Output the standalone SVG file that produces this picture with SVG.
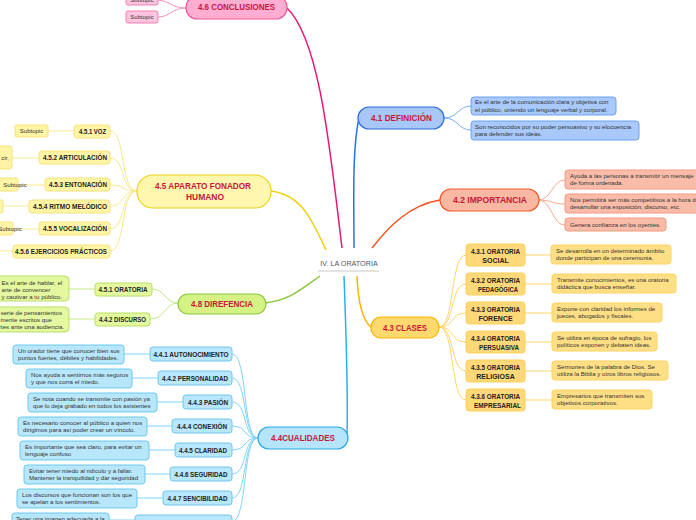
<svg xmlns="http://www.w3.org/2000/svg" width="696" height="520" viewBox="0 0 696 520">
<style>
.h{font-family:"Liberation Sans",Arial,sans-serif;font-weight:bold;fill:#c8163c;text-anchor:middle;dominant-baseline:central}
.c{font-family:"Liberation Sans",Arial,sans-serif;font-weight:bold;fill:#222;text-anchor:middle;dominant-baseline:central;font-size:7px}
.d{font-family:"Liberation Sans",Arial,sans-serif;fill:#333;font-size:6.1px}
.s{font-family:"Liberation Sans",Arial,sans-serif;fill:#333;font-size:6px;text-anchor:middle;dominant-baseline:central}
.cn path{fill:none}
</style>
<rect width="696" height="520" fill="#fff"/>
<g class="cn" id="connectors">
  <path d="M342,248 C330,150 320,40 287,8" stroke="#e8187a" stroke-width="1.5"/>
  <path d="M354,248 C354,200 352,150 359,118" stroke="#2373e0" stroke-width="1.5"/>
  <path d="M372,248 C390,225 410,205 440,200" stroke="#f4511e" stroke-width="1.5"/>
  <path d="M326,250 C310,215 300,195 271,191" stroke="#f0d000" stroke-width="1.5"/>
  <path d="M320,276 C300,290 290,300 265,303" stroke="#8cc43c" stroke-width="1.5"/>
  <path d="M344,276 C346,330 348,400 347,437" stroke="#2bb0ee" stroke-width="1.5"/>
  <path d="M357,276 C358,300 362,320 371,327" stroke="#ffb300" stroke-width="1.5"/>
  <g stroke="#f590c0" stroke-width="1">
    <path d="M186,8 C172,8 170,1 158,0"/>
    <path d="M186,8 C172,8 170,17 158,17"/>
  </g>
  <g stroke="#7aaef0" stroke-width="1">
    <path d="M444,118 C458,118 458,106 471,106"/>
    <path d="M444,118 C458,118 458,130 471,130"/>
  </g>
  <g stroke="#f6a88c" stroke-width="1">
    <path d="M538,200 C552,200 552,180 565,180"/>
    <path d="M538,200 C552,200 552,204 565,204"/>
    <path d="M538,200 C552,200 552,225 565,225"/>
  </g>
  <g stroke="#ffd56b" stroke-width="1">
    <path d="M439,327 C455,327 450,255 466,255"/>
    <path d="M439,327 C455,327 450,284 466,284"/>
    <path d="M439,327 C455,327 450,313 466,313"/>
    <path d="M439,327 C455,327 450,342 466,342"/>
    <path d="M439,327 C455,327 450,371 466,371"/>
    <path d="M439,327 C455,327 450,400 466,400"/>
    <path d="M525,255 H551 M525,284 H552 M525,313 H552 M525,342 H552 M525,371 H552 M525,400 H552"/>
  </g>
  <g stroke="#f7e98e" stroke-width="1">
    <path d="M137,191 C120,191 126,131 110,131"/>
    <path d="M137,191 C120,191 126,158 110,158"/>
    <path d="M137,191 C120,191 126,185 110,185"/>
    <path d="M137,191 C120,191 126,206 110,206"/>
    <path d="M137,191 C120,191 126,229 110,229"/>
    <path d="M137,191 C120,191 126,251 110,251"/>
    <path d="M74,131 H48 M39,158 H12 M45,185 H18 M29,206 H3 M39,229 H13 M13,251 H0"/>
  </g>
  <g stroke="#c5e88a" stroke-width="1">
    <path d="M178,303 C165,303 165,289 152,289"/>
    <path d="M178,303 C165,303 165,319 150,319"/>
    <path d="M95,289 H69 M95,319 H69"/>
  </g>
  <g stroke="#81d4fa" stroke-width="1">
    <path d="M258,438 C242,438 248,354 232,354"/>
    <path d="M258,438 C242,438 248,378 232,378"/>
    <path d="M258,438 C242,438 248,402 232,402"/>
    <path d="M258,438 C242,438 248,426 232,426"/>
    <path d="M258,438 C242,438 248,450 232,450"/>
    <path d="M258,438 C242,438 248,474 232,474"/>
    <path d="M258,438 C242,438 248,498 232,498"/>
    <path d="M258,438 C242,438 248,520 232,522"/>
    <path d="M150,354 H124 M158,378 H132 M183,402 H157 M172,426 H147 M175,450 H149 M170,474 H145 M163,498 H137 M135,520 H109"/>
  </g>
</g>

<g id="center">
  <text x="349" y="263" font-family="Liberation Sans,Arial,sans-serif" font-size="7.2" fill="#555" text-anchor="middle" dominant-baseline="central">IV. LA ORATORIA</text>
  <line x1="318" y1="271" x2="379" y2="271" stroke="#e3e3e3" stroke-width="2"/>
</g>

<g id="n46">
  <rect x="186" y="-4" width="101" height="23" rx="11" fill="#ffaed2" stroke="#f0569a" stroke-width="1.2"/>
  <text class="h" x="236.5" y="7" font-size="9" textLength="77" lengthAdjust="spacingAndGlyphs">4.6 CONCLUSIONES</text>
</g>
<g id="n46a"><rect x="126" y="-6" width="32" height="11" rx="2" fill="#ffc4de" stroke="#f47fb6"/><text class="s" x="142" y="0">Subtopic</text></g>
<g id="n46b"><rect x="126" y="11" width="32" height="12" rx="2" fill="#ffc4de" stroke="#f47fb6"/><text class="s" x="142" y="17">Subtopic</text></g>

<g id="n41">
  <rect x="358" y="107" width="86" height="22" rx="11" fill="#a7c7f7" stroke="#2d6fd8" stroke-width="1.2"/>
  <text class="h" x="401.5" y="118" font-size="9" textLength="61" lengthAdjust="spacingAndGlyphs">4.1 DEFINICIÓN</text>
</g>
<g id="n41a"><rect x="471" y="97" width="145" height="18" rx="3" fill="#a8c9fa" stroke="#6ba2ee"/>
  <text class="d" x="475" y="104">Es el arte de la comunicación clara y objetiva con</text>
  <text class="d" x="475" y="111.5">el público, uniendo un lenguaje verbal y corporal.</text></g>
<g id="n41b"><rect x="471" y="121" width="168" height="19" rx="3" fill="#a8c9fa" stroke="#6ba2ee"/>
  <text class="d" x="475" y="128.5">Son reconocidos por su poder persuasivo y su elocuencia</text>
  <text class="d" x="475" y="136">para defender sus ideas.</text></g>

<g id="n42">
  <rect x="440" y="189" width="99" height="22" rx="11" fill="#f9b8a2" stroke="#f25a2c" stroke-width="1.2"/>
  <text class="h" x="490" y="200" font-size="9" textLength="74" lengthAdjust="spacingAndGlyphs">4.2 IMPORTANCIA</text>
</g>
<g id="n42a"><rect x="565" y="170" width="140" height="19" rx="3" fill="#f9bca8" stroke="#f39a80"/>
  <text class="d" x="570" y="177.5">Ayuda a las personas a transmitir un mensaje</text>
  <text class="d" x="570" y="185">de forma ordenada.</text></g>
<g id="n42b"><rect x="565" y="194" width="140" height="19" rx="3" fill="#f9bca8" stroke="#f39a80"/>
  <text class="d" x="570" y="201.5">Nos permitirá ser más competitivos a la hora de</text>
  <text class="d" x="570" y="209">desarrollar una exposición, discurso, etc.</text></g>
<g id="n42c"><rect x="565" y="218" width="101" height="13" rx="3" fill="#f9bca8" stroke="#f39a80"/>
  <text class="d" x="570" y="227">Genera confianza en los oyentes.</text></g>

<g id="n43">
  <rect x="371" y="317" width="68" height="21" rx="10" fill="#ffd86e" stroke="#f8b500" stroke-width="1.2"/>
  <text class="h" x="405" y="327.5" font-size="9" textLength="44" lengthAdjust="spacingAndGlyphs">4.3 CLASES</text>
</g>
<g id="n431"><rect x="466" y="244" width="59" height="22" rx="3" fill="#ffd979" stroke="#ffcf55"/>
  <text class="c" x="495.5" y="251" font-size="6.5" textLength="49" lengthAdjust="spacingAndGlyphs">4.3.1 ORATORIA</text>
  <text class="c" x="495.5" y="260" font-size="6.5">SOCIAL</text></g>
<g id="n432"><rect x="466" y="273" width="59" height="22" rx="3" fill="#ffd979" stroke="#ffcf55"/>
  <text class="c" x="495.5" y="280" font-size="6.5" textLength="49" lengthAdjust="spacingAndGlyphs">4.3.2 ORATORIA</text>
  <text class="c" x="498" y="289" font-size="6.5" textLength="40" lengthAdjust="spacingAndGlyphs">PEDAGÓGICA</text></g>
<g id="n433"><rect x="466" y="302" width="59" height="22" rx="3" fill="#ffd979" stroke="#ffcf55"/>
  <text class="c" x="495.5" y="309" font-size="6.5" textLength="49" lengthAdjust="spacingAndGlyphs">4.3.3 ORATORIA</text>
  <text class="c" x="495.5" y="318" font-size="6.5">FORENCE</text></g>
<g id="n434"><rect x="466" y="331" width="59" height="22" rx="3" fill="#ffd979" stroke="#ffcf55"/>
  <text class="c" x="495.5" y="338" font-size="6.5" textLength="49" lengthAdjust="spacingAndGlyphs">4.3.4 ORATORIA</text>
  <text class="c" x="499" y="347" font-size="6.5" textLength="40" lengthAdjust="spacingAndGlyphs">PERSUASIVA</text></g>
<g id="n435"><rect x="466" y="360" width="59" height="22" rx="3" fill="#ffd979" stroke="#ffcf55"/>
  <text class="c" x="495.5" y="367" font-size="6.5" textLength="49" lengthAdjust="spacingAndGlyphs">4.3.5 ORATORIA</text>
  <text class="c" x="495.5" y="376" font-size="6.5">RELIGIOSA</text></g>
<g id="n436"><rect x="466" y="389" width="59" height="22" rx="3" fill="#ffd979" stroke="#ffcf55"/>
  <text class="c" x="495.5" y="396" font-size="6.5" textLength="49" lengthAdjust="spacingAndGlyphs">4.3.6 ORATORIA</text>
  <text class="c" x="497.5" y="405" font-size="6.5" textLength="47" lengthAdjust="spacingAndGlyphs">EMPRESARIAL</text></g>
<g id="d431"><rect x="551" y="245" width="120" height="19" rx="3" fill="#ffdf85" stroke="#ffd25e"/>
  <text class="d" x="556" y="252.5">Se desarrolla en un determinado ámbito</text>
  <text class="d" x="556" y="260">donde  participan de una ceremonia.</text></g>
<g id="d432"><rect x="552" y="274" width="124" height="19" rx="3" fill="#ffdf85" stroke="#ffd25e"/>
  <text class="d" x="557" y="281.5">Transmite conocimientos, es una oratoria</text>
  <text class="d" x="557" y="289">didáctica que busca enseñar.</text></g>
<g id="d433"><rect x="552" y="303" width="110" height="19" rx="3" fill="#ffdf85" stroke="#ffd25e"/>
  <text class="d" x="557" y="310.5">Expone con claridad los informes de</text>
  <text class="d" x="557" y="318">jueces, abogados y fiscales.</text></g>
<g id="d434"><rect x="552" y="332" width="105" height="19" rx="3" fill="#ffdf85" stroke="#ffd25e"/>
  <text class="d" x="557" y="339.5">Se utiliza en época de sufragio, los</text>
  <text class="d" x="557" y="347">políticos exponen y debaten ideas.</text></g>
<g id="d435"><rect x="552" y="361" width="116" height="19" rx="3" fill="#ffdf85" stroke="#ffd25e"/>
  <text class="d" x="557" y="368.5">Sermones de la palabra de Dios. Se</text>
  <text class="d" x="557" y="376">utiliza la Biblia y otros libros religiosos.</text></g>
<g id="d436"><rect x="552" y="390" width="100" height="19" rx="3" fill="#ffdf85" stroke="#ffd25e"/>
  <text class="d" x="557" y="397.5">Empresarios que transmiten sus</text>
  <text class="d" x="557" y="405">objetivos corporativos.</text></g>

<g id="n45">
  <rect x="137" y="175" width="134" height="33" rx="16" fill="#fff7ae" stroke="#ecd21a" stroke-width="1.2"/>
  <text class="h" x="203" y="186" font-size="9" textLength="96" lengthAdjust="spacingAndGlyphs">4.5 APARATO FONADOR</text>
  <text class="h" x="205" y="197" font-size="9" textLength="38" lengthAdjust="spacingAndGlyphs">HUMANO</text>
</g>
<g id="n451"><rect x="74" y="125" width="36" height="13" rx="3" fill="#fff5a5" stroke="#f3e27c"/><text class="c" x="92.5" y="131.5" textLength="27" lengthAdjust="spacingAndGlyphs">4.5.1 VOZ</text></g>
<g id="n452"><rect x="39" y="151" width="71" height="13" rx="3" fill="#fff5a5" stroke="#f3e27c"/><text class="c" x="75" y="157.5" textLength="64" lengthAdjust="spacingAndGlyphs">4.5.2 ARTICULACIÓN</text></g>
<g id="n453"><rect x="45" y="178" width="65" height="13" rx="3" fill="#fff5a5" stroke="#f3e27c"/><text class="c" x="78" y="184.5" textLength="58" lengthAdjust="spacingAndGlyphs">4.5.3 ENTONACIÓN</text></g>
<g id="n454"><rect x="29" y="200" width="81" height="13" rx="3" fill="#fff5a5" stroke="#f3e27c"/><text class="c" x="70" y="206.5" textLength="74" lengthAdjust="spacingAndGlyphs">4.5.4 RITMO MELÓDICO</text></g>
<g id="n455"><rect x="39" y="222" width="71" height="13" rx="3" fill="#fff5a5" stroke="#f3e27c"/><text class="c" x="75" y="228.5" textLength="64" lengthAdjust="spacingAndGlyphs">4.5.5 VOCALIZACIÓN</text></g>
<g id="n456"><rect x="13" y="245" width="97" height="13" rx="3" fill="#fff5a5" stroke="#f3e27c"/><text class="c" x="61" y="251.5" textLength="92" lengthAdjust="spacingAndGlyphs">4.5.6 EJERCICIOS PRÁCTICOS</text></g>
<g id="s451"><rect x="15" y="125" width="33" height="12" rx="2" fill="#fff5a5" stroke="#f3e27c"/><text class="s" x="31.5" y="131">Subtopic</text></g>
<g id="s452"><rect x="-20" y="146" width="32" height="23" rx="3" fill="#fff5a5" stroke="#f3e27c"/><text class="d" x="9" y="160" text-anchor="end">cir,</text></g>
<g id="s453"><rect x="-20" y="178" width="38" height="13" rx="2" fill="#fff5a5" stroke="#f3e27c"/><text class="s" x="15" y="184.5" text-anchor="end">Subtopic</text></g>
<g id="s454"><rect x="-20" y="200" width="23" height="13" rx="2" fill="#fff5a5" stroke="#f3e27c"/></g>
<g id="s455"><rect x="-20" y="222" width="33" height="13" rx="2" fill="#fff5a5" stroke="#f3e27c"/><text class="s" x="10" y="228.5" text-anchor="end">Subtopic</text></g>

<g id="n48">
  <rect x="178" y="294" width="88" height="20" rx="10" fill="#d5f285" stroke="#8cc43c" stroke-width="1.2"/>
  <text class="h" x="222" y="303.5" font-size="9" textLength="62" lengthAdjust="spacingAndGlyphs">4.8 DIREFENCIA</text>
</g>
<g id="n481"><rect x="95" y="283" width="57" height="13" rx="3" fill="#e4f8a0" stroke="#b9e06a"/><text class="c" x="123" y="289.5" textLength="49" lengthAdjust="spacingAndGlyphs">4.5.1 ORATORIA</text></g>
<g id="n482"><rect x="95" y="313" width="55" height="13" rx="3" fill="#e4f8a0" stroke="#b9e06a"/><text class="c" x="122.5" y="319.5" textLength="47" lengthAdjust="spacingAndGlyphs">4.4.2 DISCURSO</text></g>
<g id="d481"><rect x="-6" y="276" width="75" height="25" rx="4" fill="#e4f8a0" stroke="#b9e06a"/>
  <text class="d" x="1.5" y="285">Es el arte de hablar, el</text>
  <text class="d" x="1.5" y="292">arte de convencer</text>
  <text class="d" x="1.5" y="299">y cautivar a tu público.</text></g>
<g id="d482"><rect x="-6" y="307" width="75" height="25" rx="4" fill="#e4f8a0" stroke="#b9e06a"/>
  <text class="d" x="62" y="315" text-anchor="end">serie de pensamientos</text>
  <text class="d" x="52" y="322" text-anchor="end">mente escritos que</text>
  <text class="d" x="64" y="329" text-anchor="end">rtes ante una audiencia.</text></g>

<g id="n44">
  <rect x="258" y="427" width="90" height="22" rx="11" fill="#b5e4fb" stroke="#2aa9e6" stroke-width="1.2"/>
  <text class="h" x="303" y="438" font-size="9" textLength="64" lengthAdjust="spacingAndGlyphs">4.4CUALIDADES</text>
</g>
<g id="n441"><rect x="150" y="347" width="82" height="14" rx="3" fill="#b8e6fb" stroke="#6cc9f2"/><text class="c" x="191" y="354" textLength="75" lengthAdjust="spacingAndGlyphs">4.4.1 AUTONOCIMIENTO</text></g>
<g id="n442"><rect x="158" y="371" width="74" height="14" rx="3" fill="#b8e6fb" stroke="#6cc9f2"/><text class="c" x="195" y="378" textLength="66" lengthAdjust="spacingAndGlyphs">4.4.2 PERSONALIDAD</text></g>
<g id="n443"><rect x="183" y="395" width="49" height="14" rx="3" fill="#b8e6fb" stroke="#6cc9f2"/><text class="c" x="208" y="402" textLength="40" lengthAdjust="spacingAndGlyphs">4.4.3 PASIÓN</text></g>
<g id="n444"><rect x="172" y="419" width="60" height="14" rx="3" fill="#b8e6fb" stroke="#6cc9f2"/><text class="c" x="202" y="426" textLength="50" lengthAdjust="spacingAndGlyphs">4.4.4 CONEXIÓN</text></g>
<g id="n445"><rect x="175" y="443" width="57" height="14" rx="3" fill="#b8e6fb" stroke="#6cc9f2"/><text class="c" x="203" y="450" textLength="48" lengthAdjust="spacingAndGlyphs">4.4.5 CLARIDAD</text></g>
<g id="n446"><rect x="170" y="467" width="62" height="14" rx="3" fill="#b8e6fb" stroke="#6cc9f2"/><text class="c" x="201" y="474" textLength="53" lengthAdjust="spacingAndGlyphs">4.4.6 SEGURIDAD</text></g>
<g id="n447"><rect x="163" y="491" width="69" height="14" rx="3" fill="#b8e6fb" stroke="#6cc9f2"/><text class="c" x="197.5" y="498" textLength="60" lengthAdjust="spacingAndGlyphs">4.4.7 SENCIBILIDAD</text></g>
<g id="n448"><rect x="135" y="515" width="97" height="14" rx="3" fill="#b8e6fb" stroke="#6cc9f2"/></g>
<g id="d441"><rect x="13" y="345" width="111" height="19" rx="3" fill="#b8e6fb" stroke="#6cc9f2"/>
  <text class="d" x="18" y="352.5">Un orador tiene que conocer bien sus</text>
  <text class="d" x="18" y="360">puntos fuertes, débiles y habilidades.</text></g>
<g id="d442"><rect x="26" y="369" width="106" height="19" rx="3" fill="#b8e6fb" stroke="#6cc9f2"/>
  <text class="d" x="31" y="376.5">Nos ayuda a sentirnos más seguros</text>
  <text class="d" x="31" y="384">y que nos corra el miedo.</text></g>
<g id="d443"><rect x="28" y="393" width="129" height="19" rx="3" fill="#b8e6fb" stroke="#6cc9f2"/>
  <text class="d" x="33" y="400.5">Se nota cuando se transmite con pasión ya</text>
  <text class="d" x="33" y="408">que lo deja grabado en todos los asistentes</text></g>
<g id="d444"><rect x="18" y="417" width="129" height="19" rx="3" fill="#b8e6fb" stroke="#6cc9f2"/>
  <text class="d" x="23" y="424.5">Es necesario conocer al público a quien nos</text>
  <text class="d" x="23" y="432">dirigimos para así poder crear un vínculo.</text></g>
<g id="d445"><rect x="20" y="441" width="129" height="19" rx="3" fill="#b8e6fb" stroke="#6cc9f2"/>
  <text class="d" x="25" y="448.5">Es importante que sea claro, para evitar un</text>
  <text class="d" x="25" y="456">lenguaje confuso</text></g>
<g id="d446"><rect x="24" y="465" width="121" height="19" rx="3" fill="#b8e6fb" stroke="#6cc9f2"/>
  <text class="d" x="29" y="472.5">Evitar tener miedo al ridículo y a fallar.</text>
  <text class="d" x="29" y="480">Mantener la tranquilidad y dar seguridad</text></g>
<g id="d447"><rect x="17" y="489" width="120" height="19" rx="3" fill="#b8e6fb" stroke="#6cc9f2"/>
  <text class="d" x="22" y="496.5">Los discursos que funcionan son los que</text>
  <text class="d" x="22" y="504">se apelan a los sentimientos.</text></g>
<g id="d448"><rect x="12" y="513" width="97" height="19" rx="3" fill="#b8e6fb" stroke="#6cc9f2"/>
  <text class="d" x="16" y="520.5">Tener una imagen adecuada a la</text></g>
</svg>
